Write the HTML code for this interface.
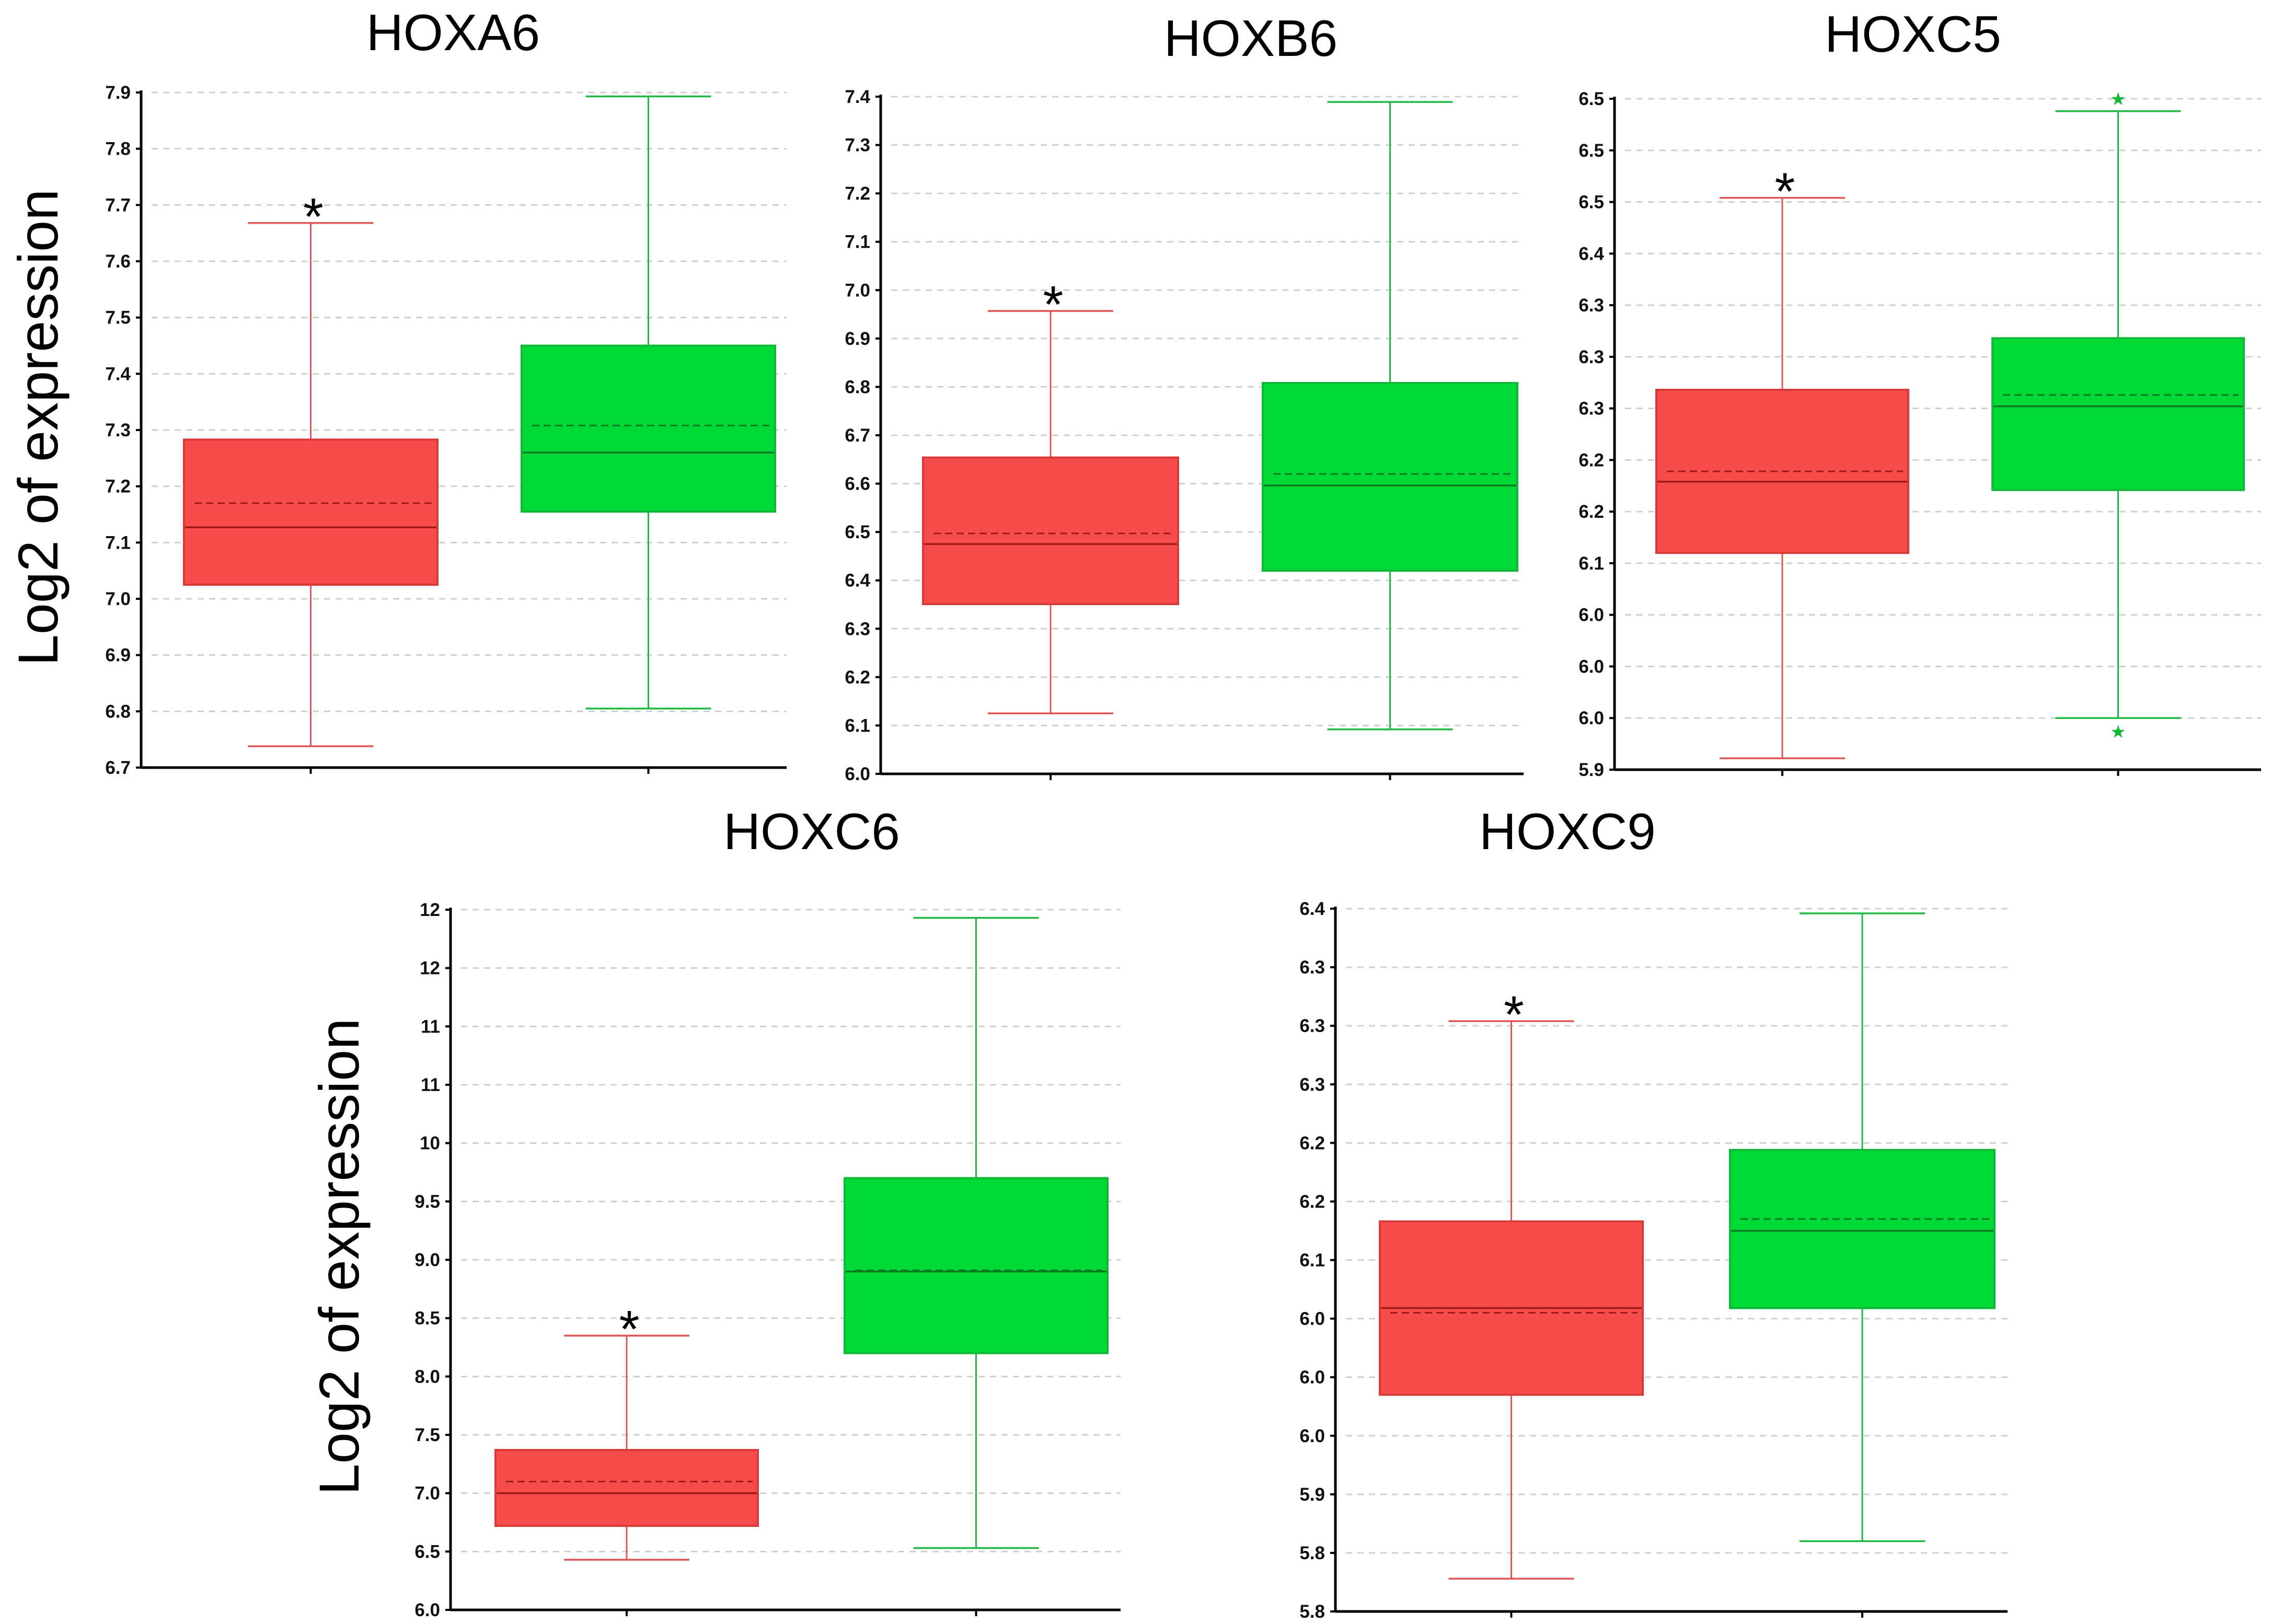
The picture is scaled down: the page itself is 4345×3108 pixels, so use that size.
<!DOCTYPE html>
<html><head><meta charset="utf-8">
<style>
html,body{margin:0;padding:0;background:#fff;}
svg{display:block;font-family:"Liberation Sans",Arial,sans-serif;}
</style></head>
<body>
<svg id="fig" width="4345" height="3108" viewBox="0 0 4345 3108" xmlns="http://www.w3.org/2000/svg">
<text transform="translate(110,818) rotate(-90)" text-anchor="middle" font-size="108" fill="#000">Log2 of expression</text>
<text transform="translate(686,2405) rotate(-90)" text-anchor="middle" font-size="108" fill="#000">Log2 of expression</text>
</svg>
<script>
const panelTitles = ["HOXA6","HOXB6","HOXC5","HOXC6","HOXC9"];
const axisMin = [6.7, 6.0, 5.9, 6.0, 5.8];
const axisMax = [7.9, 7.4, 6.55, 12.0, 6.4];
const tickLabels1 = ["6.7","6.8","6.9","7.0","7.1","7.2","7.3","7.4","7.5","7.6","7.7","7.8","7.9"];
const tickLabels2 = ["6.0","6.1","6.2","6.3","6.4","6.5","6.6","6.7","6.8","6.9","7.0","7.1","7.2","7.3","7.4"];
const tickLabels3 = ["5.9","6.0","6.0","6.0","6.1","6.2","6.2","6.3","6.3","6.3","6.4","6.5","6.5","6.5"];
const tickLabels4 = ["6.0","6.5","7.0","7.5","8.0","8.5","9.0","9.5","10","11","11","12","12"];
const tickLabels5 = ["5.8","5.8","5.9","6.0","6.0","6.0","6.1","6.2","6.2","6.3","6.3","6.3","6.4"];
// [whiskerLow, q1, median, mean, q3, whiskerHigh]
const redStats1 = [6.738, 7.025, 7.127, 7.17, 7.283, 7.668];
const greenStats1 = [6.805, 7.155, 7.26, 7.308, 7.45, 7.893];
const redStats2 = [6.125, 6.351, 6.475, 6.497, 6.654, 6.957];
const greenStats2 = [6.092, 6.420, 6.596, 6.62, 6.808, 7.389];
const redStats3 = [5.911, 6.110, 6.179, 6.189, 6.268, 6.454];
const greenStats3 = [5.950, 6.171, 6.252, 6.263, 6.318, 6.538];
const redStats4 = [6.43, 6.72, 7.0, 7.1, 7.37, 8.35];
const greenStats4 = [6.53, 8.2, 8.9, 8.91, 9.7, 11.93];
const redStats5 = [5.828, 5.985, 6.059, 6.055, 6.133, 6.304];
const greenStats5 = [5.860, 6.059, 6.125, 6.135, 6.194, 6.396];
const greenOutliers3 = [6.55, 5.937];

const tickSets = [tickLabels1,tickLabels2,tickLabels3,tickLabels4,tickLabels5];
const redSets = [redStats1,redStats2,redStats3,redStats4,redStats5];
const greenSets = [greenStats1,greenStats2,greenStats3,greenStats4,greenStats5];
const outlierSets = [[],[],greenOutliers3,[],[]];

const layout = [
 {x0:270,x1:1505,yT:177,yB:1469,r:[352,837],g:[998,1483],tx:867,ty:96},
 {x0:1685,x1:2915,yT:185,yB:1481,r:[1766,2254],g:[2416,2903],tx:2393,ty:107},
 {x0:3089,x1:4326,yT:189,yB:1473,r:[3169,3651],g:[3812,4293],tx:3660,ty:99},
 {x0:862,x1:2144,yT:1741,yB:3081,r:[948,1450],g:[1616,2119],tx:1553,ty:1625},
 {x0:2555,x1:3841,yT:1739,yB:3084,r:[2640,3143],g:[3310,3816],tx:2999,ty:1625}
];
const NS="http://www.w3.org/2000/svg";
const svg=document.getElementById('fig');
function mk(tag,attrs,parent){const e=document.createElementNS(NS,tag);for(const k in attrs)e.setAttribute(k,attrs[k]);(parent||svg).appendChild(e);return e;}

layout.forEach((L,p)=>{
  const g=mk('g',{});
  
  
  const y=v=>L.yB-(v-axisMin[p])/(axisMax[p]-axisMin[p])*(L.yB-L.yT);
  const ticks=tickSets[p];
  const n=ticks.length;
  ticks.forEach((lab,i)=>{
    const v=axisMin[p]+i*(axisMax[p]-axisMin[p])/(n-1);
    const yy=y(v);
    if(i>0){const gl=mk('line',{x1:L.x0+20,x2:L.x1,y1:yy,y2:yy,stroke:'#cfcfcf','stroke-width':3,'stroke-dasharray':'12,10'},g);
      
      }
    const tk=mk('line',{x1:L.x0-10,x2:L.x0,y1:yy,y2:yy,stroke:'#000','stroke-width':4},g);
    
    
    const t=mk('text',{x:L.x0-20,y:yy+12,'text-anchor':'end','font-size':35,'font-weight':'bold',fill:'#111'},g);
    t.textContent=lab;
    
    
  });
  const ya=mk('line',{x1:L.x0,x2:L.x0,y1:L.yT-4,y2:L.yB,stroke:'#000','stroke-width':5},g);
  
  
  const xa=mk('line',{x1:L.x0,x2:L.x1,y1:L.yB,y2:L.yB,stroke:'#000','stroke-width':5},g);
  
  
  const title=mk('text',{x:L.tx,y:L.ty,'text-anchor':'middle','font-size':98,fill:'#000'},g);
  title.textContent=panelTitles[p];
  
  

  [['red',redSets[p],L.r,'#f84c4c','#d83a3a','#e05555','#a01818'],['green',greenSets[p],L.g,'#00d936','#10b838','#22b845','#087a20']].forEach(([nm,s,xr,fill,edge,wcol,mcol])=>{
    const cx=(xr[0]+xr[1])/2;
    const bg=mk('g',{},g);
    
    
    const xt=mk('line',{x1:cx,x2:cx,y1:L.yB,y2:L.yB+12,stroke:'#000','stroke-width':4},bg);
    
    
    const w=mk('line',{x1:cx,x2:cx,y1:y(s[0]),y2:y(s[5]),stroke:wcol,'stroke-width':3},bg);
    
    
    [s[0],s[5]].forEach(v=>{const c=mk('line',{x1:cx-120,x2:cx+120,y1:y(v),y2:y(v),stroke:wcol,'stroke-width':3.5},bg);
      
      });
    const r=mk('rect',{x:xr[0],y:y(s[4]),width:xr[1]-xr[0],height:y(s[1])-y(s[4]),fill:fill,stroke:edge,'stroke-width':4},bg);
    
    
    const md=mk('line',{x1:xr[0]+2,x2:xr[1]-2,y1:y(s[2]),y2:y(s[2]),stroke:mcol,'stroke-width':3.5},bg);
    
    
    const mn=mk('line',{x1:xr[0]+20,x2:xr[1]-10,y1:y(s[3]),y2:y(s[3]),stroke:mcol,'stroke-width':3,'stroke-dasharray':'14,8'},bg);
    
    
    if(nm==='red'){
      const st=mk('text',{x:cx+5,y:y(s[5])+22,'text-anchor':'middle','font-size':100,fill:'#000'},bg);
      st.textContent='*';
      
      
    } else {
      outlierSets[p].forEach(v=>{const o=mk('text',{x:cx,y:y(v)+12,'text-anchor':'middle','font-size':34,fill:'#10b838'},bg);
        o.textContent='★';
        
        });
    }
  });
});
</script>
</body></html>
